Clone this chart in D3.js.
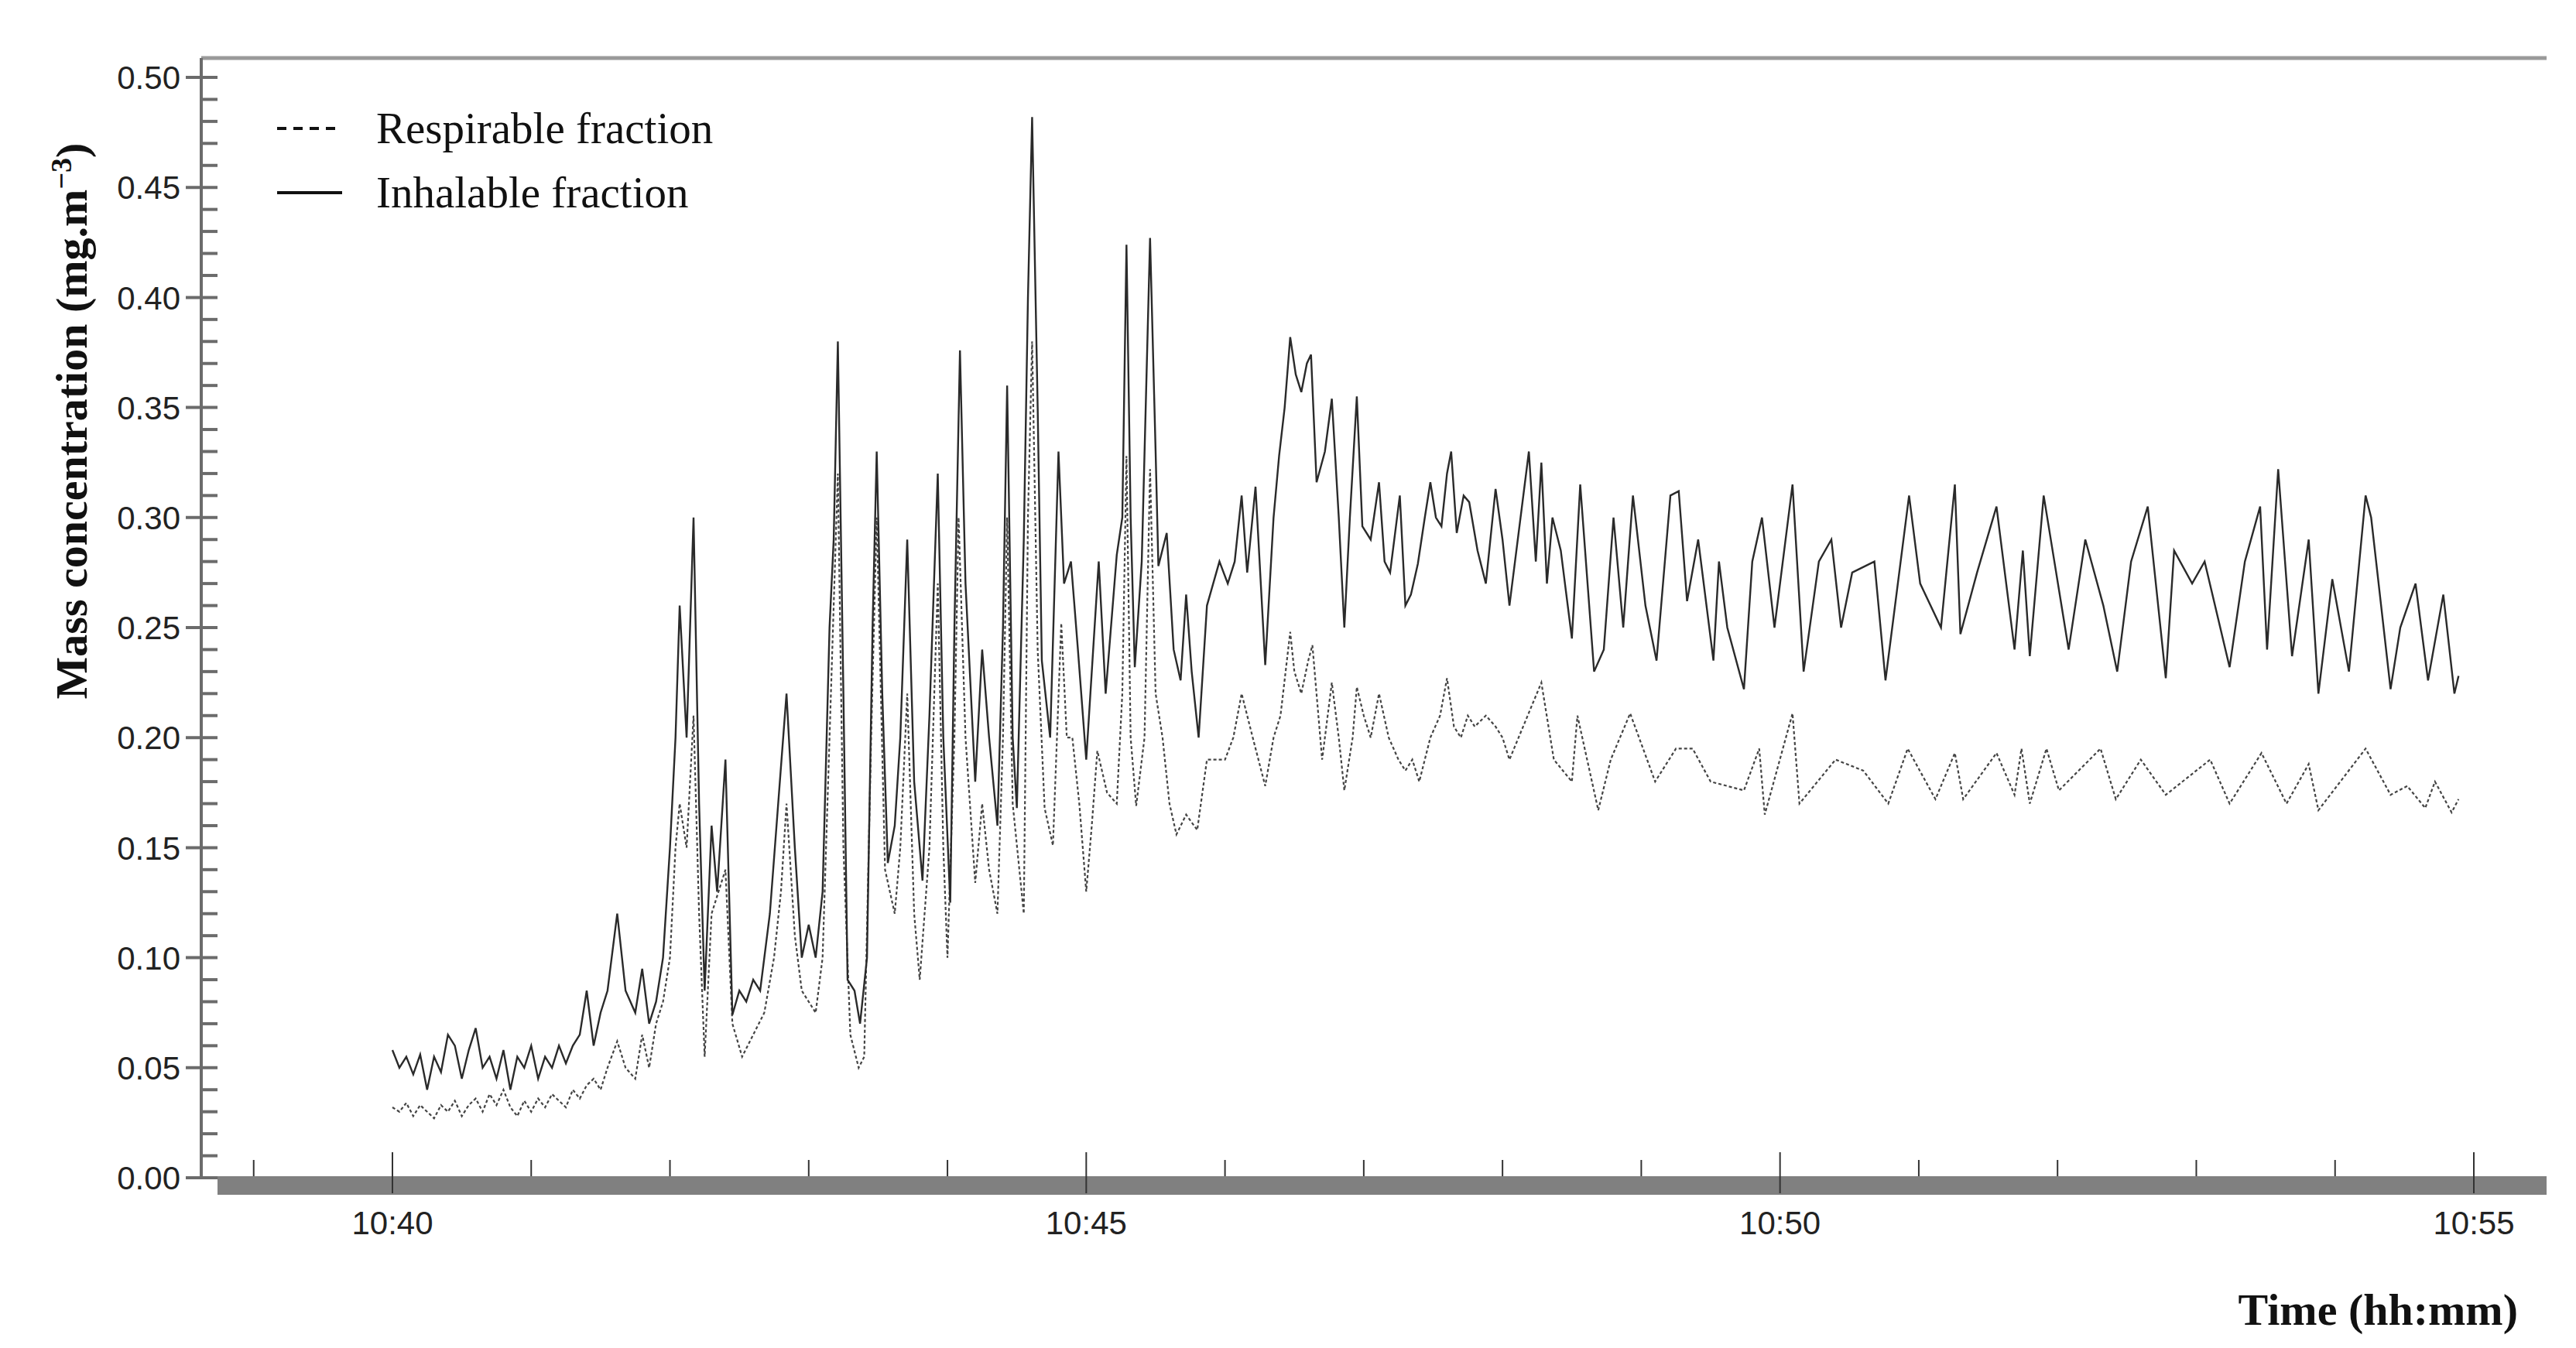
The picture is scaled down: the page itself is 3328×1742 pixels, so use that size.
<!DOCTYPE html>
<html>
<head>
<meta charset="utf-8">
<script src="https://cdn.jsdelivr.net/npm/d3@7"></script>
<style>
  body { margin: 0; background: #fff; }
</style>
</head>
<body>
<svg id="chart" width="3328" height="1742"></svg>
<script>
// minutes after 10:40, mass concentration (mg.m-3)
var inhalable = [
  [0,0.058],[0.05,0.05],[0.1,0.055],[0.15,0.047],[0.2,0.056],[0.25,0.04],[0.3,0.055],[0.35,0.048],[0.4,0.065],
  [0.45,0.06],[0.5,0.045],[0.55,0.058],[0.6,0.068],[0.65,0.05],[0.7,0.055],[0.75,0.045],[0.8,0.058],[0.85,0.04],
  [0.9,0.055],[0.95,0.05],[1.0,0.06],[1.05,0.045],[1.1,0.055],[1.15,0.05],[1.2,0.06],[1.25,0.052],[1.3,0.06],
  [1.35,0.065],[1.4,0.085],[1.45,0.06],[1.5,0.075],[1.55,0.085],[1.62,0.12],[1.68,0.085],[1.75,0.075],[1.8,0.095],
  [1.85,0.07],[1.9,0.08],[1.95,0.1],[2.0,0.15],[2.04,0.2],[2.07,0.26],[2.12,0.2],[2.17,0.30],[2.21,0.17],[2.25,0.085],
  [2.3,0.16],[2.34,0.13],[2.4,0.19],[2.45,0.074],[2.5,0.085],[2.55,0.08],[2.6,0.09],[2.65,0.085],[2.72,0.12],
  [2.78,0.17],[2.84,0.22],[2.9,0.15],[2.95,0.1],[3.0,0.115],[3.05,0.1],[3.1,0.13],[3.15,0.25],[3.18,0.29],[3.21,0.38],
  [3.25,0.22],[3.28,0.09],[3.33,0.085],[3.37,0.07],[3.42,0.1],[3.46,0.25],[3.49,0.33],[3.53,0.22],[3.57,0.143],
  [3.62,0.16],[3.66,0.2],[3.71,0.29],[3.76,0.18],[3.82,0.135],[3.87,0.21],[3.93,0.32],[3.97,0.2],[4.02,0.125],
  [4.05,0.25],[4.09,0.376],[4.13,0.27],[4.2,0.18],[4.25,0.24],[4.3,0.2],[4.36,0.16],[4.4,0.25],[4.43,0.36],[4.47,0.2],
  [4.5,0.168],[4.55,0.29],[4.58,0.4],[4.61,0.482],[4.65,0.35],[4.68,0.235],[4.74,0.2],[4.8,0.33],[4.84,0.27],
  [4.89,0.28],[4.94,0.24],[5.0,0.19],[5.05,0.24],[5.09,0.28],[5.14,0.22],[5.22,0.283],[5.26,0.3],[5.29,0.424],
  [5.32,0.3],[5.35,0.232],[5.4,0.28],[5.46,0.427],[5.5,0.33],[5.52,0.278],[5.58,0.293],[5.63,0.24],[5.68,0.226],
  [5.72,0.265],[5.76,0.23],[5.81,0.2],[5.87,0.26],[5.96,0.28],[6.02,0.27],[6.07,0.28],[6.12,0.31],[6.16,0.275],
  [6.22,0.314],[6.29,0.233],[6.35,0.3],[6.39,0.328],[6.43,0.35],[6.47,0.382],[6.51,0.365],[6.55,0.357],[6.59,0.37],
  [6.62,0.374],[6.66,0.316],[6.72,0.33],[6.77,0.354],[6.82,0.3],[6.86,0.25],[6.9,0.3],[6.95,0.355],[6.99,0.296],
  [7.05,0.29],[7.11,0.316],[7.15,0.28],[7.19,0.275],[7.26,0.31],[7.3,0.26],[7.34,0.265],[7.39,0.279],[7.44,0.3],
  [7.48,0.316],[7.52,0.3],[7.56,0.296],[7.6,0.32],[7.63,0.33],[7.67,0.293],[7.72,0.31],[7.76,0.307],[7.82,0.285],
  [7.88,0.27],[7.95,0.313],[8.0,0.29],[8.05,0.26],[8.19,0.33],[8.24,0.28],[8.28,0.325],[8.32,0.27],[8.36,0.30],
  [8.42,0.285],[8.5,0.245],[8.56,0.315],[8.66,0.23],[8.73,0.24],[8.8,0.30],[8.87,0.25],[8.94,0.31],[9.03,0.26],
  [9.11,0.235],[9.21,0.31],[9.27,0.312],[9.33,0.262],[9.41,0.29],[9.52,0.235],[9.56,0.28],[9.62,0.25],[9.74,0.222],
  [9.8,0.28],[9.87,0.30],[9.96,0.25],[10.09,0.315],[10.17,0.23],[10.28,0.28],[10.37,0.29],[10.44,0.25],[10.52,0.275],
  [10.68,0.28],[10.76,0.226],[10.93,0.31],[11.01,0.27],[11.16,0.25],[11.26,0.315],[11.3,0.247],[11.42,0.275],
  [11.56,0.305],[11.69,0.24],[11.75,0.285],[11.8,0.237],[11.9,0.31],[12.08,0.24],[12.2,0.29],[12.33,0.26],
  [12.43,0.23],[12.53,0.28],[12.65,0.305],[12.78,0.227],[12.84,0.285],[12.97,0.27],[13.06,0.28],[13.24,0.232],
  [13.35,0.28],[13.46,0.305],[13.51,0.24],[13.59,0.322],[13.69,0.237],[13.81,0.29],[13.88,0.22],[13.98,0.272],
  [14.1,0.23],[14.22,0.31],[14.26,0.30],[14.4,0.222],[14.47,0.25],[14.58,0.27],[14.67,0.226],[14.78,0.265],
  [14.86,0.22],[14.89,0.228]
];

var respirable = [
  [0,0.032],[0.05,0.03],[0.1,0.034],[0.15,0.028],[0.2,0.033],[0.25,0.03],[0.3,0.027],[0.35,0.033],[0.4,0.03],
  [0.45,0.035],[0.5,0.028],[0.55,0.033],[0.6,0.036],[0.65,0.03],[0.7,0.038],[0.75,0.033],[0.8,0.04],[0.85,0.032],
  [0.9,0.028],[0.95,0.035],[1.0,0.03],[1.05,0.036],[1.1,0.032],[1.15,0.038],[1.2,0.035],[1.25,0.032],[1.3,0.04],
  [1.35,0.036],[1.4,0.042],[1.45,0.045],[1.5,0.04],[1.55,0.05],[1.62,0.062],[1.68,0.05],[1.75,0.045],[1.8,0.065],
  [1.85,0.05],[1.9,0.07],[1.95,0.08],[2.0,0.1],[2.04,0.15],[2.07,0.17],[2.12,0.15],[2.17,0.21],[2.21,0.12],
  [2.25,0.055],[2.3,0.12],[2.35,0.13],[2.4,0.14],[2.45,0.07],[2.52,0.055],[2.6,0.065],[2.68,0.075],[2.75,0.1],
  [2.8,0.13],[2.84,0.17],[2.9,0.11],[2.95,0.085],[3.05,0.075],[3.1,0.1],[3.15,0.2],[3.21,0.32],[3.25,0.15],
  [3.3,0.065],[3.36,0.05],[3.4,0.055],[3.45,0.2],[3.49,0.3],[3.55,0.14],[3.62,0.12],[3.66,0.15],[3.71,0.22],
  [3.76,0.12],[3.8,0.09],[3.87,0.15],[3.93,0.27],[3.97,0.15],[4.0,0.1],[4.05,0.2],[4.08,0.3],[4.13,0.2],[4.2,0.134],
  [4.25,0.17],[4.3,0.14],[4.36,0.12],[4.4,0.2],[4.43,0.3],[4.47,0.17],[4.55,0.12],[4.58,0.3],[4.61,0.38],[4.65,0.24],
  [4.7,0.168],[4.76,0.151],[4.82,0.252],[4.86,0.2],[4.9,0.2],[4.95,0.17],[5.0,0.13],[5.04,0.16],[5.08,0.194],
  [5.15,0.175],[5.22,0.17],[5.26,0.22],[5.29,0.328],[5.32,0.2],[5.36,0.169],[5.42,0.2],[5.46,0.322],[5.5,0.22],
  [5.55,0.2],[5.6,0.17],[5.65,0.156],[5.72,0.165],[5.8,0.158],[5.87,0.19],[5.93,0.19],[6.0,0.19],[6.06,0.2],
  [6.12,0.22],[6.2,0.2],[6.29,0.178],[6.35,0.2],[6.4,0.21],[6.47,0.248],[6.5,0.23],[6.55,0.22],[6.6,0.235],
  [6.63,0.242],[6.7,0.19],[6.77,0.225],[6.82,0.2],[6.86,0.176],[6.92,0.2],[6.95,0.223],[7.0,0.21],[7.05,0.2],
  [7.11,0.22],[7.18,0.2],[7.25,0.19],[7.3,0.185],[7.35,0.19],[7.4,0.18],[7.48,0.2],[7.55,0.21],[7.6,0.227],
  [7.65,0.205],[7.7,0.2],[7.75,0.21],[7.8,0.205],[7.88,0.21],[7.95,0.205],[8.0,0.2],[8.05,0.19],[8.28,0.225],
  [8.37,0.19],[8.5,0.18],[8.54,0.21],[8.69,0.167],[8.78,0.19],[8.92,0.211],[9.1,0.18],[9.25,0.195],[9.37,0.195],
  [9.5,0.18],[9.74,0.176],[9.85,0.195],[9.89,0.165],[10.09,0.211],[10.14,0.17],[10.4,0.19],[10.6,0.185],
  [10.78,0.17],[10.92,0.195],[11.12,0.172],[11.26,0.193],[11.32,0.172],[11.56,0.193],[11.69,0.174],[11.74,0.195],
  [11.8,0.17],[11.92,0.195],[12.01,0.176],[12.31,0.195],[12.42,0.172],[12.6,0.19],[12.78,0.174],[13.1,0.19],
  [13.24,0.17],[13.47,0.193],[13.65,0.17],[13.81,0.188],[13.88,0.167],[14.22,0.195],[14.4,0.174],[14.52,0.178],
  [14.65,0.168],[14.72,0.18],[14.84,0.166],[14.89,0.172]
];

var yTicks = [0, 0.05, 0.1, 0.15, 0.2, 0.25, 0.3, 0.35, 0.4, 0.45, 0.5];
var xTickLabels = ["10:40", "10:45", "10:50", "10:55"];
var legendLabels = ["Respirable fraction", "Inhalable fraction"];

var base = new Date(2020, 0, 1, 10, 40, 0);
function toDate(m) { return new Date(base.getTime() + m * 60000); }

var svg = d3.select('#chart');

var x = d3.scaleTime()
  .domain([toDate(0), toDate(15)])
  .range([507, 3196]);

var y = d3.scaleLinear()
  .domain([0, 0.5])
  .range([1522, 100]);

var axisColor = '#6b6b6b';

// top border
svg.append('line')
  .attr('x1', 260).attr('x2', 3290)
  .attr('y1', 75).attr('y2', 75)
  .attr('stroke', '#9a9a9a').attr('stroke-width', 5);

// y axis: major ticks crossing, minor ticks inside
var yAxis = svg.append('g').attr('transform', 'translate(260,0)');
yAxis.append('line')
  .attr('x1', 0).attr('x2', 0)
  .attr('y1', 75).attr('y2', 1522)
  .attr('stroke', axisColor).attr('stroke-width', 4);

var minorY = d3.range(0, 51).map(function (i) { return i / 100; });
yAxis.selectAll('.ym').data(minorY).enter().append('line')
  .attr('x1', function (d, i) { return i % 5 === 0 ? -20 : 0; })
  .attr('x2', 21)
  .attr('y1', function (d) { return y(d); })
  .attr('y2', function (d) { return y(d); })
  .attr('stroke', axisColor).attr('stroke-width', 4);

yAxis.selectAll('.yl').data(yTicks).enter().append('text')
  .attr('x', -27)
  .attr('y', function (d) { return y(d); })
  .attr('dy', '0.36em')
  .attr('text-anchor', 'end')
  .attr('font-family', 'Liberation Sans, Arial, sans-serif')
  .attr('font-size', 42)
  .attr('fill', '#222')
  .text(function (d) { return d3.format('.2f')(d); });

// x axis: thick grey bar
svg.append('rect')
  .attr('x', 281).attr('y', 1520)
  .attr('width', 3290 - 281).attr('height', 24)
  .attr('fill', '#808080');

var minorX = d3.range(-1, 16).map(function (m) { return toDate(m); });
svg.selectAll('.xm').data(minorX).enter().append('line')
  .attr('x1', function (d) { return x(d); })
  .attr('x2', function (d) { return x(d); })
  .attr('y1', function (d, i) { return (i - 1) % 5 === 0 ? 1489 : 1499; })
  .attr('y2', function (d, i) { return (i - 1) % 5 === 0 ? 1542 : 1520; })
  .attr('stroke', '#333').attr('stroke-width', 2);

svg.selectAll('.xl').data(xTickLabels).enter().append('text')
  .attr('x', function (d, i) { return x(toDate(i * 5)); })
  .attr('y', 1595)
  .attr('text-anchor', 'middle')
  .attr('font-family', 'Liberation Sans, Arial, sans-serif')
  .attr('font-size', 42)
  .attr('fill', '#222')
  .text(function (d) { return d; });

// series
var line = d3.line()
  .x(function (d) { return x(toDate(d[0])); })
  .y(function (d) { return y(d[1]); });

svg.append('path')
  .datum(respirable)
  .attr('d', line)
  .attr('fill', 'none')
  .attr('stroke', '#444')
  .attr('stroke-width', 2.2)
  .attr('stroke-dasharray', '4,3');

svg.append('path')
  .datum(inhalable)
  .attr('d', line)
  .attr('fill', 'none')
  .attr('stroke', '#2a2a2a')
  .attr('stroke-width', 2.4);

// legend
var legend = svg.append('g');
legendLabels.forEach(function (label, i) {
  var ly = 166 + i * 83;
  legend.append('line')
    .attr('x1', 358).attr('x2', 442)
    .attr('y1', ly).attr('y2', ly)
    .attr('stroke', '#111').attr('stroke-width', 4)
    .attr('stroke-dasharray', i === 0 ? '12,9' : null);
  legend.append('text')
    .attr('x', 486).attr('y', ly + 19)
    .attr('font-family', 'Liberation Serif, Times New Roman, serif')
    .attr('font-size', 57)
    .attr('fill', '#111')
    .text(label);
});

// axis titles
var yTitle = svg.append('text')
  .attr('transform', 'translate(112,544) rotate(-90)')
  .attr('text-anchor', 'middle')
  .attr('font-family', 'Liberation Serif, Times New Roman, serif')
  .attr('font-weight', 'bold')
  .attr('font-size', 58)
  .attr('fill', '#111');
yTitle.append('tspan').text('Mass concentration (mg.m');
yTitle.append('tspan').attr('dy', -20).attr('font-size', 38).text('−3');
yTitle.append('tspan').attr('dy', 20).text(')');

svg.append('text')
  .attr('x', 3253).attr('y', 1712)
  .attr('text-anchor', 'end')
  .attr('font-family', 'Liberation Serif, Times New Roman, serif')
  .attr('font-weight', 'bold')
  .attr('font-size', 58)
  .attr('fill', '#111')
  .text('Time (hh:mm)');
</script>
</body>
</html>
